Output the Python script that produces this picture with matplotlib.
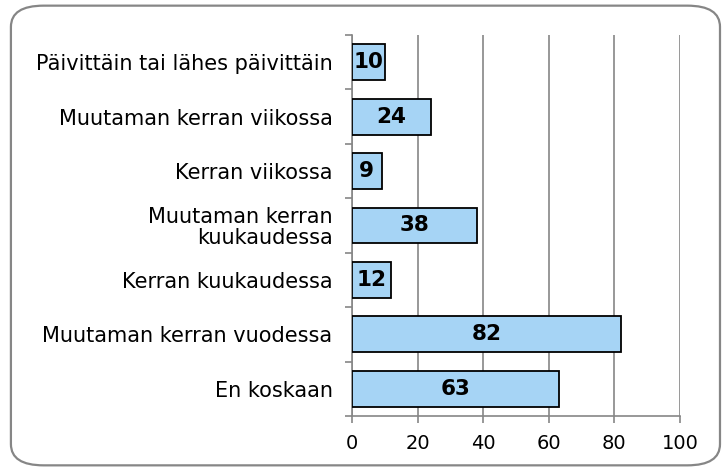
import matplotlib.pyplot as plt
from matplotlib.patches import FancyBboxPatch
import numpy as np

# Data
categories = [
    "Päivittäin tai lähes päivittäin",
    "Muutaman kerran viikossa",
    "Kerran viikossa",
    "Muutaman kerran\nkuukaudessa",
    "Kerran kuukaudessa",
    "Muutaman kerran vuodessa",
    "En koskaan",
]
values = [10, 24, 9, 38, 12, 82, 63]
x_ticks = [0, 20, 40, 60, 80, 100]

fig = plt.figure(figsize=(7.28, 4.71), dpi=100)
ax = fig.add_axes([0.4835, 0.1168, 0.4505, 0.8089])

y = np.arange(len(categories))
ax.barh(y, values, height=0.66, color="#A6D4F5", edgecolor="black", linewidth=1.3, zorder=3)

for yi, v in zip(y, values):
    ax.text(v / 2, yi, str(v), ha="center", va="center", fontsize=15.5,
            fontweight="bold", zorder=4)

ax.set_ylim(len(categories) - 0.5, -0.5)
ax.set_xlim(0, 100)
ax.set_xticks(x_ticks)
ax.set_yticks(y)
ax.set_yticklabels(categories, fontsize=15, ha="right", linespacing=1.05)
ax.tick_params(axis="y", length=0, pad=14)
ax.set_yticks(np.arange(-0.5, len(categories), 1), minor=True)
ax.tick_params(axis="y", which="minor", length=5, color="#868686", width=1.2)
ax.tick_params(axis="x", labelsize=14, length=5, color="#868686", width=1.2, pad=8)

ax.grid(axis="x", color="#868686", linewidth=1.2, zorder=0)
for s in ["top", "right"]:
    ax.spines[s].set_visible(False)
for s in ["left", "bottom"]:
    ax.spines[s].set_color("#868686")
    ax.spines[s].set_linewidth(1.2)

# rounded border around the chart
border = FancyBboxPatch((0.015, 0.012), 0.974, 0.976,
                        boxstyle="round,pad=0,rounding_size=0.045",
                        transform=fig.transFigure, fill=False,
                        edgecolor="#868686", linewidth=1.6)
fig.patches.append(border)

fig.savefig("out.png", dpi=100)
